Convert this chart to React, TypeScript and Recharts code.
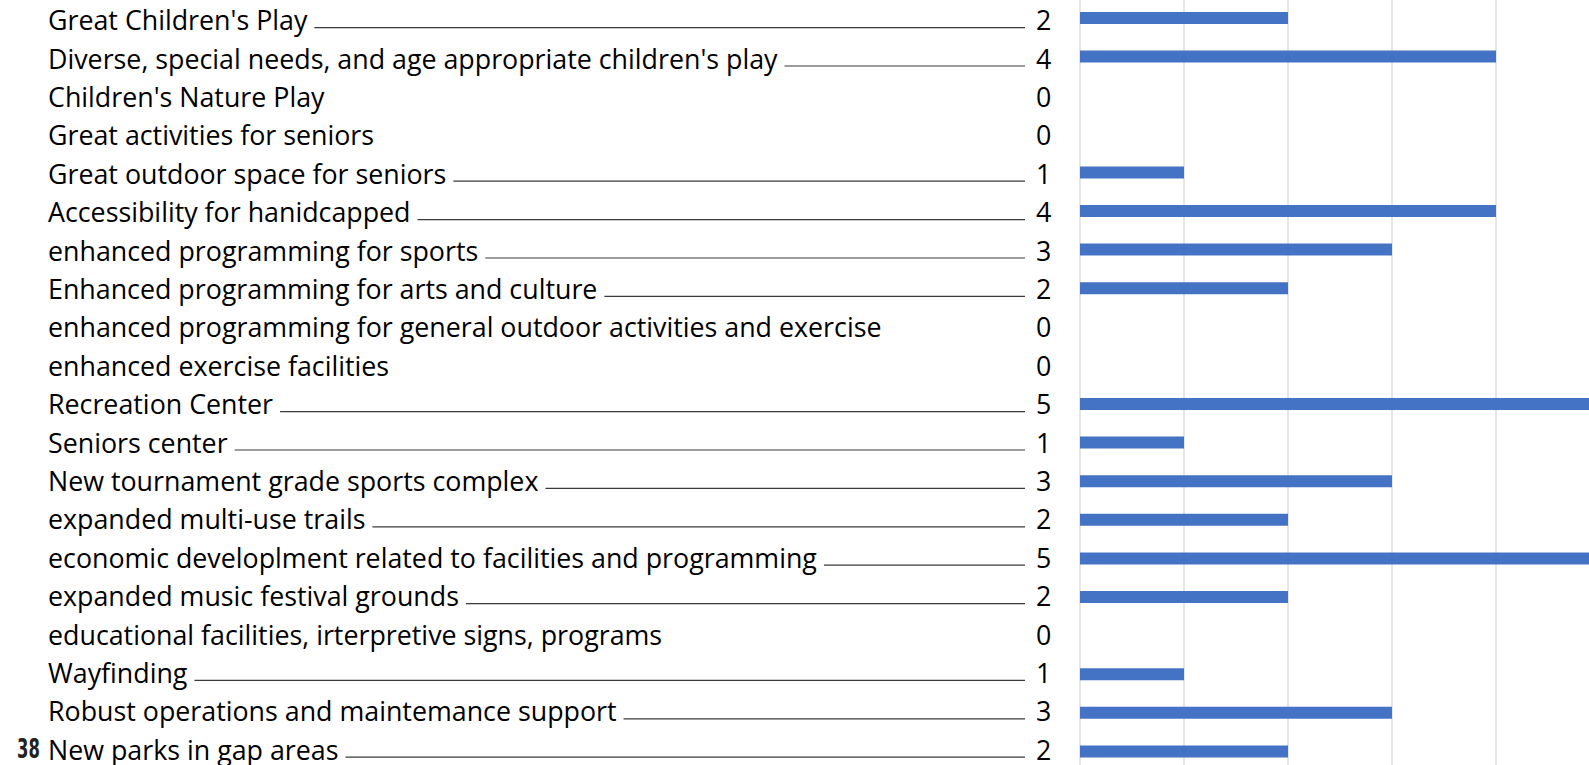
import React from 'react';
import { BarChart, Bar, XAxis, YAxis, CartesianGrid } from 'recharts';

const labels = [
    "Great Children's Play",
    "Diverse, special needs, and age appropriate children's play",
    "Children's Nature Play",
    'Great activities for seniors',
    'Great outdoor space for seniors',
    'Accessibility for hanidcapped',
    'enhanced programming for sports',
    'Enhanced programming for arts and culture',
    'enhanced programming for general outdoor activities and exercise',
    'enhanced exercise facilities',
    'Recreation Center',
    'Seniors center',
    'New tournament grade sports complex',
    'expanded multi-use trails',
    'economic developlment related to facilities and programming',
    'expanded music festival grounds',
    'educational facilities, irterpretive signs, programs',
    'Wayfinding',
    'Robust operations and maintemance support',
    'New parks in gap areas',
];

const votes = [2, 4, 0, 0, 1, 4, 3, 2, 0, 0, 5, 1, 3, 2, 5, 2, 0, 1, 3, 2];

const xTicks = [0, 1, 2, 3, 4, 5, 6];

const pageNumber = '38';

const rows = labels.map((label, i) => ({ label, value: votes[i] }));

const FONT_NAME = 'Open Sans';
const FONT = `"${FONT_NAME}", sans-serif`;
const FONT_SIZE = 26.8;

let ctx: CanvasRenderingContext2D | null = null;
function measure(text: string) {
    if (!ctx) {
        ctx = document.createElement('canvas').getContext('2d');
    }
    if (!ctx) return text.length * 12;
    ctx.font = `${FONT_SIZE}px "${FONT_NAME}"`;
    return ctx.measureText(text).width;
}

const textStyle = { fontVariantLigatures: 'none' } as React.CSSProperties;

// the text rows sit on a slightly tighter pitch than the bars
const LabelTick = (props: any) => {
    const { y, payload } = props;
    const label: string = payload.value;
    const idx = labels.indexOf(label);
    const v = votes[idx];
    const w = measure(label);
    const base = y + 11.8 - 0.2 * idx;
    return (
        <g>
            <text x={48} y={base} fontFamily={FONT} fontSize={FONT_SIZE} fill="#000" style={textStyle}>
                {label}
            </text>
            {v > 0 && (
                <line x1={48 + w + 7} x2={1025} y1={base - 2.5} y2={base - 2.5} stroke="#3a3a3a" strokeWidth={1.2} />
            )}
            <text x={1036} y={base} fontFamily={FONT} fontSize={FONT_SIZE} fill="#000" style={textStyle}>
                {v}
            </text>
        </g>
    );
};

export default function App() {
    return (
        <div style={{ position: 'absolute', left: 0, top: 0, width: 1589, height: 765, background: '#fff', overflow: 'hidden' }}>
            <BarChart
                layout="vertical"
                width={1589}
                height={765}
                data={rows}
                margin={{ top: -1, right: -115, bottom: -6, left: 0 }}
                barSize={12}
            >
                <CartesianGrid horizontal={false} stroke="#d9d9d9" strokeWidth={1.3} />
                <XAxis type="number" domain={[0, 6]} ticks={xTicks} hide />
                <YAxis
                    type="category"
                    dataKey="label"
                    width={1080}
                    interval={0}
                    tickLine={false}
                    axisLine={false}
                    tick={<LabelTick />}
                />
                <Bar dataKey="value" fill="#4472c4" isAnimationActive={false} />
            </BarChart>
            <div
                style={{
                    position: 'absolute',
                    left: 17,
                    top: 736,
                    fontFamily: '"DejaVu Sans Condensed", "Liberation Sans Narrow", sans-serif',
                    fontWeight: 'bold',
                    fontSize: 26,
                    lineHeight: '26px',
                    color: '#222',
                    transform: 'scaleX(0.7)',
                    transformOrigin: 'left top',
                }}
            >
                {pageNumber}
            </div>
        </div>
    );
}
